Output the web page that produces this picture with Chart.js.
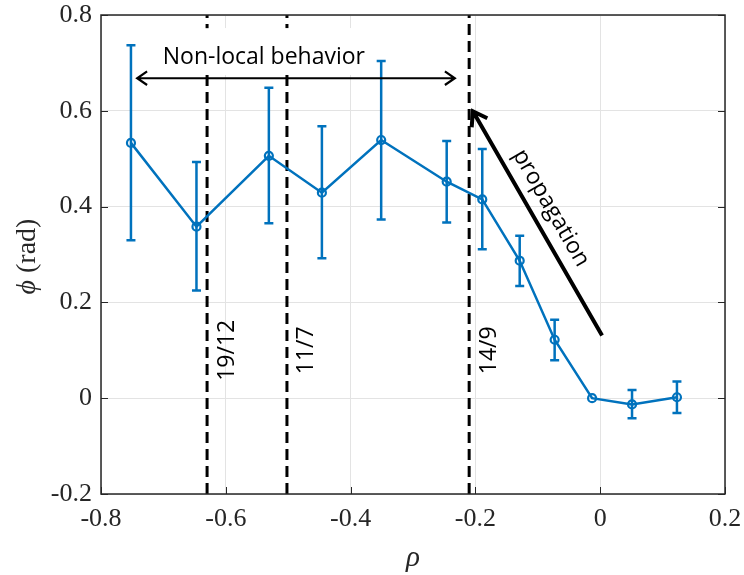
<!DOCTYPE html>
<html>
<head>
<meta charset="utf-8">
<script src="https://cdn.jsdelivr.net/npm/chart.js@4/dist/chart.umd.min.js"></script>
<style>
  html, body { margin: 0; padding: 0; background: #fff; }
  #wrap { width: 744px; height: 575px; }
</style>
</head>
<body>
<div id="wrap"><canvas id="phase-chart" width="744" height="575"></canvas></div>
<script>
// measured phase vs normalised radius
const rho = [-0.752, -0.647, -0.531, -0.446, -0.351, -0.246, -0.189, -0.129, -0.073, -0.013, 0.051, 0.123];
const phi = [0.533, 0.358, 0.506, 0.429, 0.539, 0.452, 0.415, 0.287, 0.122, 0.0, -0.013, 0.002];
const phiHigh = [0.737, 0.493, 0.648, 0.568, 0.704, 0.537, 0.520, 0.339, 0.164, 0.0, 0.017, 0.035];
const phiLow = [0.330, 0.225, 0.365, 0.292, 0.373, 0.367, 0.311, 0.234, 0.079, 0.0, -0.042, -0.031];

// rational surfaces
const surfacePos = [-0.63, -0.502, -0.21];
const surfaceLabels = ["19/12", "11/7", "14/9"];

const xTicks = [-0.8, -0.6, -0.4, -0.2, 0, 0.2];
const yTicks = [-0.2, 0, 0.2, 0.4, 0.6, 0.8];

const BLUE = "#0072BD";
const AXIS = "#262626";
const SERIF = '"Liberation Serif", "Times New Roman", serif';
const SANS = '"Open Sans", "Noto Sans", sans-serif';

function fmt(v) {
  const r = Math.round(v * 10) / 10;
  return r === 0 ? "0" : String(r);
}

function drawArrow(ctx, x0, y0, x1, y1, head, both) {
  const ang = Math.atan2(y1 - y0, x1 - x0);
  ctx.beginPath();
  ctx.moveTo(x0, y0);
  ctx.lineTo(x1, y1);
  const tips = both ? [[x1, y1, ang], [x0, y0, ang + Math.PI]] : [[x1, y1, ang]];
  tips.forEach(([tx, ty, a]) => {
    ctx.moveTo(tx - head * Math.cos(a - 0.6), ty - head * Math.sin(a - 0.6));
    ctx.lineTo(tx, ty);
    ctx.lineTo(tx - head * Math.cos(a + 0.6), ty - head * Math.sin(a + 0.6));
  });
  ctx.stroke();
}

function noPadding(s) {
  s.paddingTop = 0;
  s.paddingBottom = 0;
  s.paddingLeft = 0;
  s.paddingRight = 0;
}

function labelBox(chart) {
  const { ctx, scales: { x, y } } = chart;
  const l = x.getPixelForValue(-0.7375), r = x.getPixelForValue(-0.228);
  const t = y.getPixelForValue(0.772), b = y.getPixelForValue(0.675);
  ctx.save();
  ctx.fillStyle = "#fff";
  ctx.fillRect(l, t, r - l, b - t);
  ctx.restore();
}

// white label box covers the dashed lines and grid, error bars go under the data line
const layering = {
  id: "layering",
  afterDatasetDraw(chart, args) {
    if (args.index < surfacePos.length) labelBox(chart);
  },
  beforeDatasetDraw(chart, args) {
    if (args.index !== surfacePos.length) return;
    labelBox(chart);
    const { ctx, scales: { x, y } } = chart;
    ctx.save();
    ctx.strokeStyle = BLUE;
    ctx.lineWidth = 2.5;
    rho.forEach((r, i) => {
      if (phiHigh[i] === phiLow[i]) return;
      const px = x.getPixelForValue(r);
      const top = y.getPixelForValue(phiHigh[i]);
      const bot = y.getPixelForValue(phiLow[i]);
      ctx.beginPath();
      ctx.moveTo(px, top); ctx.lineTo(px, bot);
      ctx.moveTo(px - 4.5, top); ctx.lineTo(px + 4.5, top);
      ctx.moveTo(px - 4.5, bot); ctx.lineTo(px + 4.5, bot);
      ctx.stroke();
    });
    ctx.restore();
  },
};

const overlay = {
  id: "overlay",
  afterDatasetsDraw(chart) {
    const { ctx, chartArea: a, scales: { x, y } } = chart;
    ctx.save();

    // box and inward ticks
    ctx.strokeStyle = AXIS;
    ctx.lineWidth = 1.5;
    ctx.strokeRect(a.left, a.top, a.right - a.left, a.bottom - a.top);
    ctx.lineWidth = 1;
    ctx.beginPath();
    xTicks.forEach((v) => {
      const px = Math.round(x.getPixelForValue(v)) + 0.5;
      ctx.moveTo(px, a.bottom); ctx.lineTo(px, a.bottom - 7);
    });
    yTicks.forEach((v) => {
      const py = Math.round(y.getPixelForValue(v)) + 0.5;
      ctx.moveTo(a.left, py); ctx.lineTo(a.left + 7, py);
      ctx.moveTo(a.right, py); ctx.lineTo(a.right - 7, py);
    });
    ctx.stroke();

    // arrows
    ctx.strokeStyle = "#000";
    ctx.fillStyle = "#000";
    ctx.lineWidth = 2.2;
    drawArrow(ctx, x.getPixelForValue(-0.742), y.getPixelForValue(0.668),
      x.getPixelForValue(-0.233), y.getPixelForValue(0.668), 12, true);
    ctx.lineWidth = 4;
    drawArrow(ctx, x.getPixelForValue(0.003), y.getPixelForValue(0.131),
      x.getPixelForValue(-0.204), y.getPixelForValue(0.599), 16, false);

    ctx.font = "23px " + SANS;
    ctx.textAlign = "center";
    ctx.textBaseline = "middle";
    ctx.fillText("Non-local behavior", x.getPixelForValue(-0.539), y.getPixelForValue(0.712));

    ctx.save();
    ctx.translate(x.getPixelForValue(-0.079), y.getPixelForValue(0.397));
    ctx.rotate(Math.PI / 3);
    ctx.fillText("propagation", 0, 0);
    ctx.restore();

    surfacePos.forEach((s, i) => {
      ctx.save();
      ctx.translate(x.getPixelForValue(s) + 20, y.getPixelForValue(0.1));
      ctx.rotate(-Math.PI / 2);
      ctx.fillText(surfaceLabels[i], 0, 0);
      ctx.restore();
    });

    // axis titles
    ctx.fillStyle = AXIS;
    ctx.font = "italic 29px " + SERIF;
    ctx.textBaseline = "alphabetic";
    ctx.fillText("ρ", (a.left + a.right) / 2, 566);

    ctx.save();
    ctx.translate(28, (a.top + a.bottom) / 2 + 2);
    ctx.rotate(-Math.PI / 2);
    ctx.textBaseline = "middle";
    ctx.textAlign = "left";
    const italic = "italic 28px " + SERIF;
    const plain = "28px " + SERIF;
    ctx.font = italic;
    const w1 = ctx.measureText("ϕ").width;
    ctx.font = plain;
    const w2 = ctx.measureText(" (rad)").width;
    const start = -(w1 + w2) / 2;
    ctx.font = italic;
    ctx.fillText("ϕ", start, 0);
    ctx.font = plain;
    ctx.fillText(" (rad)", start + w1, 0);
    ctx.restore();

    ctx.restore();
  },
};

const datasets = surfacePos.map((s) => ({
  type: "line",
  data: [{ x: s, y: -0.2 }, { x: s, y: 0.8 }],
  borderColor: "#000",
  borderWidth: 3,
  borderDash: [11, 6],
  pointRadius: 0,
  order: 2,
}));

datasets.push({
  type: "line",
  data: rho.map((r, i) => ({ x: r, y: phi[i] })),
  borderColor: BLUE,
  borderWidth: 2.5,
  pointRadius: 4,
  pointBorderWidth: 2.2,
  pointBorderColor: BLUE,
  pointBackgroundColor: "rgba(255,255,255,0)",
  tension: 0,
  order: 1,
});

const tickFont = { family: SERIF, size: 26 };

new Chart(document.getElementById("phase-chart"), {
  type: "scatter",
  data: { datasets },
  options: {
    responsive: false,
    animation: false,
    devicePixelRatio: 1,
    layout: { padding: { top: 15, right: 19, left: 0, bottom: 0 } },
    plugins: { legend: { display: false }, tooltip: { enabled: false } },
    scales: {
      x: {
        type: "linear",
        min: -0.8,
        max: 0.2,
        afterBuildTicks: (s) => { s.ticks = xTicks.map((v) => ({ value: v })); },
        afterFit: (s) => { s.height = 81; noPadding(s); },
        ticks: { font: tickFont, color: AXIS, padding: 10, maxRotation: 0, callback: (v) => fmt(v) },
        grid: { color: "#e3e3e3", drawTicks: false },
        border: { display: false },
      },
      y: {
        type: "linear",
        min: -0.2,
        max: 0.8,
        afterBuildTicks: (s) => { s.ticks = yTicks.map((v) => ({ value: v })); },
        afterFit: (s) => { s.width = 101; noPadding(s); },
        ticks: { font: tickFont, color: AXIS, padding: 9, callback: (v) => fmt(v) },
        grid: { color: "#e3e3e3", drawTicks: false },
        border: { display: false },
      },
    },
  },
  plugins: [layering, overlay],
});
</script>
</body>
</html>
